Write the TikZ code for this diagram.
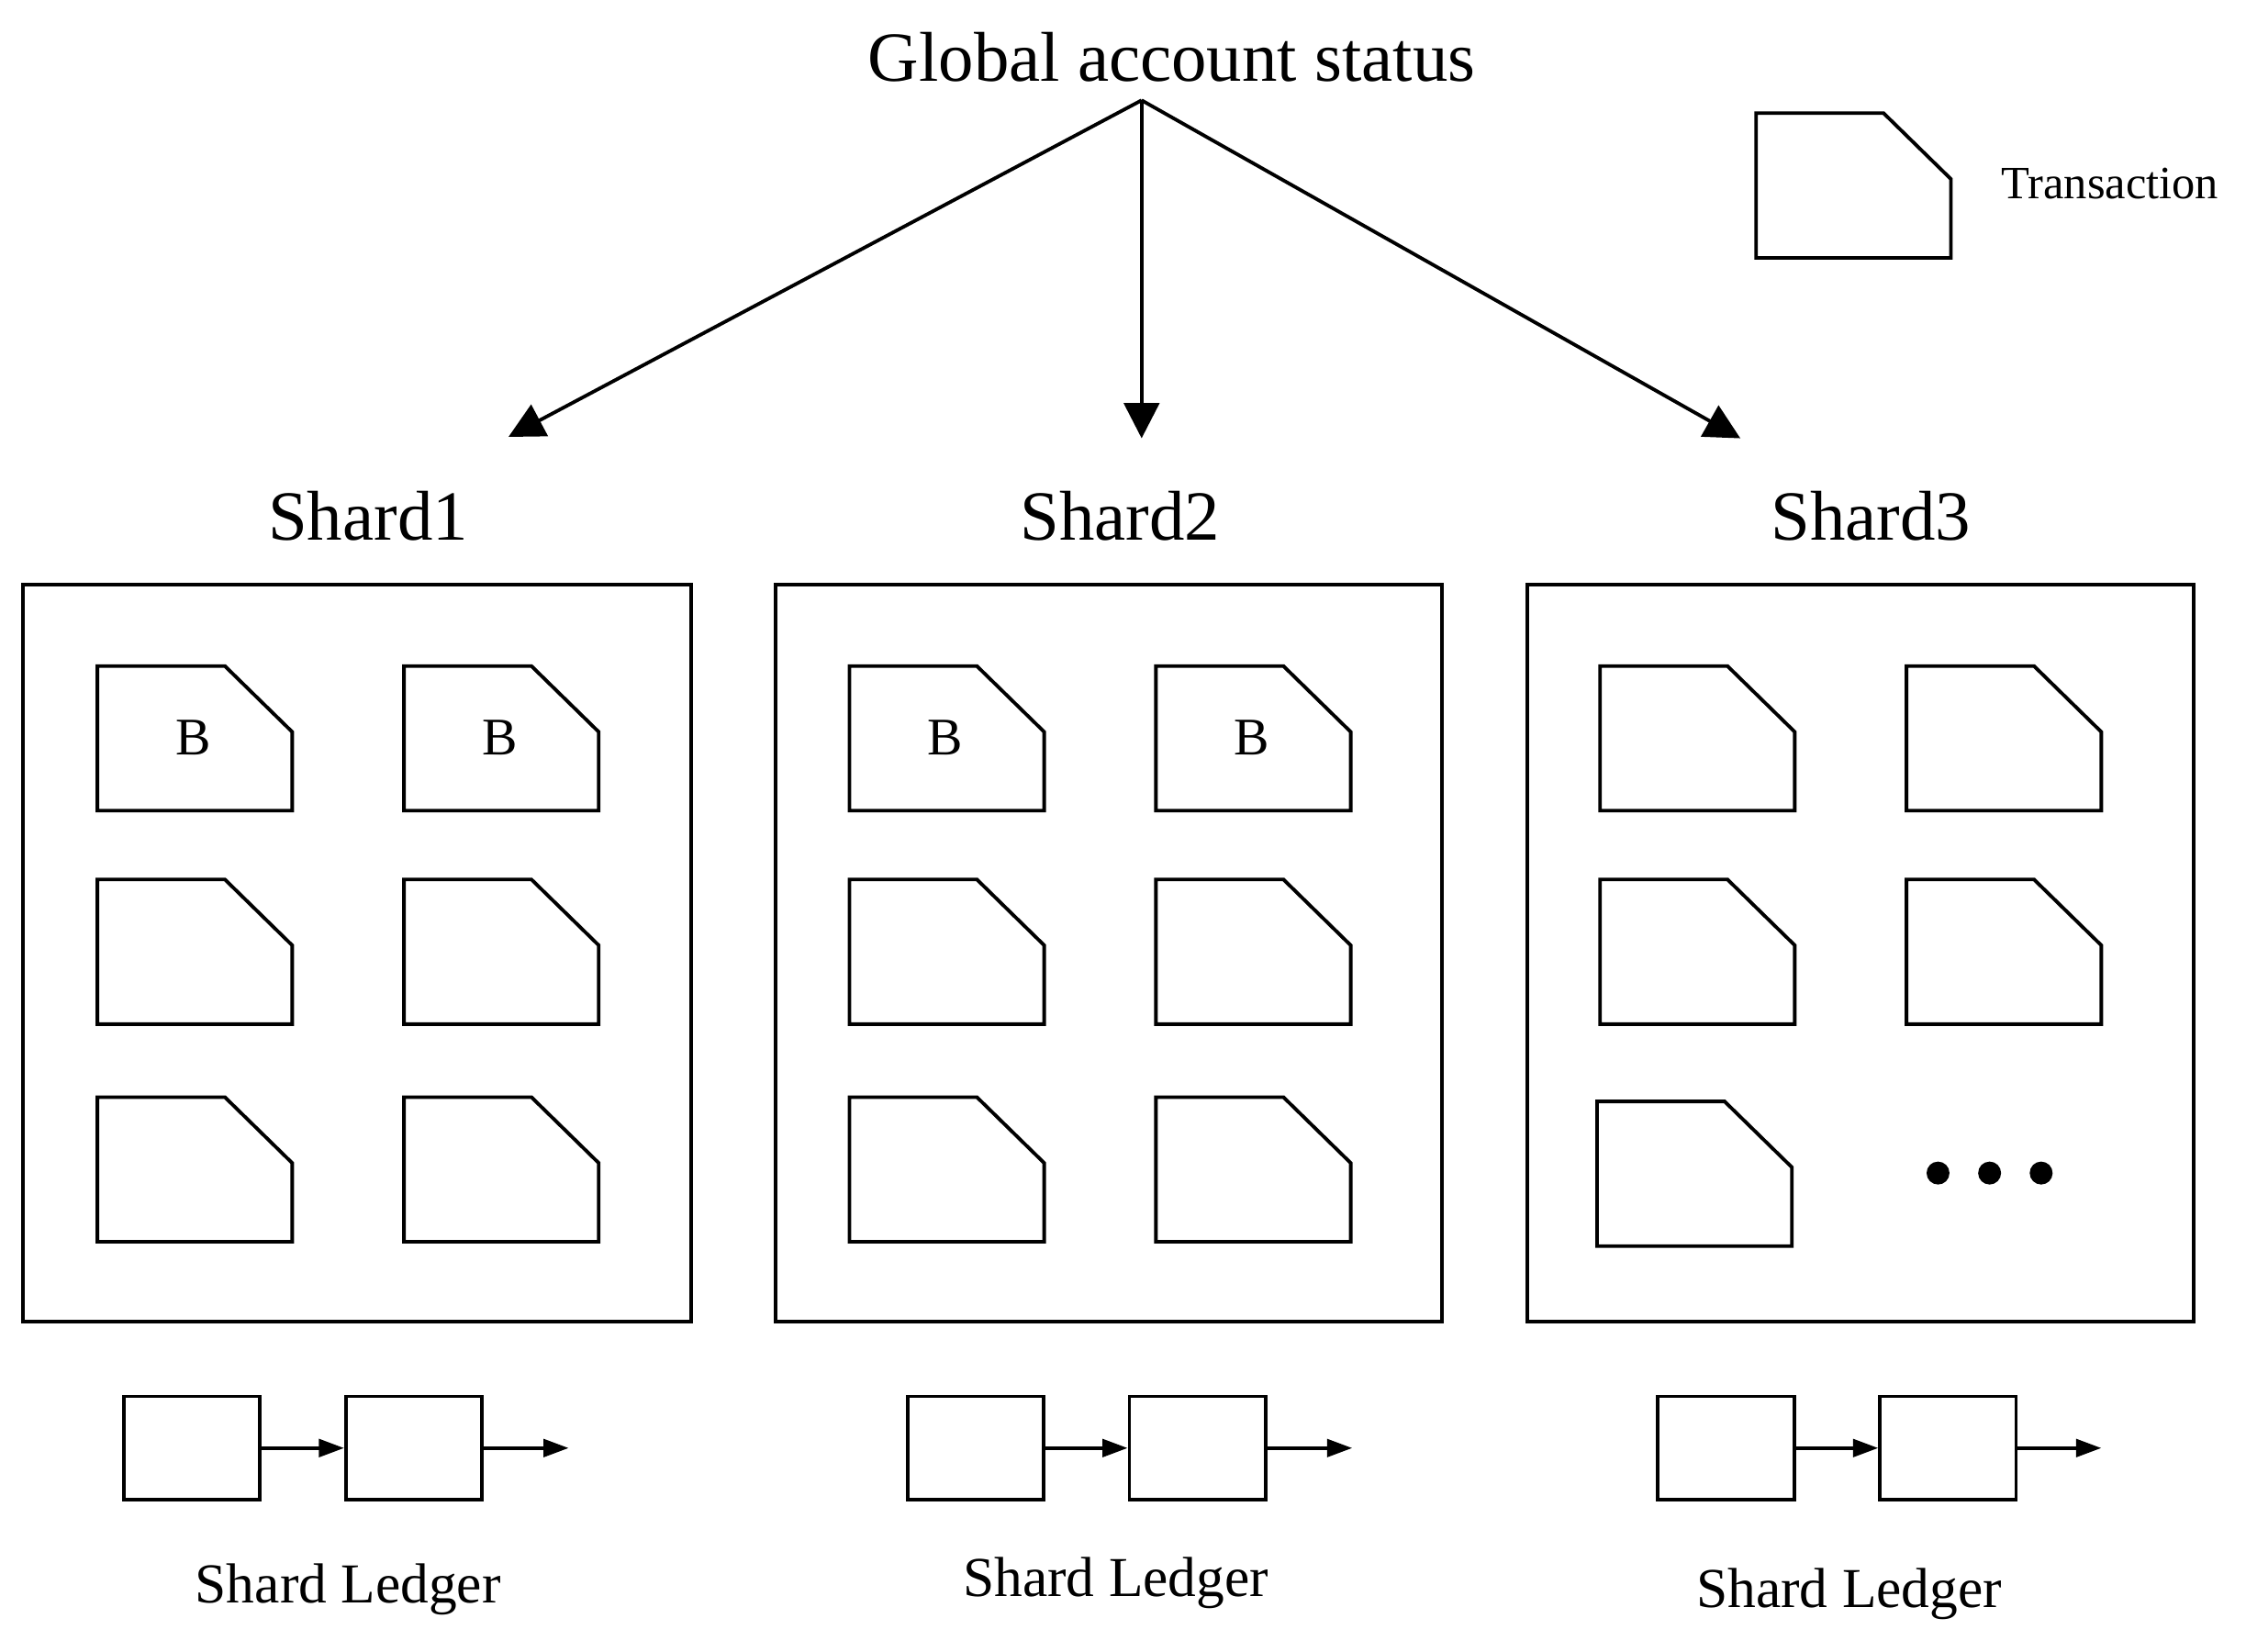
\documentclass[tikz,border=0pt]{standalone}
\usepackage{fontspec}
\setmainfont{Liberation Serif}
\usetikzlibrary{arrows.meta}
\begin{document}
\begin{tikzpicture}[x=0.01cm,y=-0.01cm,line width=0.7pt,
  tx/.pic={\draw (0,0) -- (89,0) -- (136,46) -- (136,101) -- (0,101) -- cycle;},
  blk/.style={draw,minimum width=0.95cm,minimum height=0.72cm,inner sep=0},
  arr/.style={-{Triangle[length=7pt,width=7pt]}},
  sarr/.style={-{Triangle[length=5pt,width=3.5pt]}},
  big/.style={font=\fontsize{14}{16}\selectfont},
  lab/.style={font=\fontsize{10.5}{12}\selectfont},
  led/.style={font=\fontsize{11.2}{13}\selectfont}]
\useasboundingbox (0,0) rectangle (1568,1153);
\node[big] (g) at (818,40) {Global account status};
\coordinate (o) at (797,70);
\coordinate (e1) at (355,305);
\coordinate (e2) at (797,306);
\coordinate (e3) at (1215,306);
\draw[arr] (o) -- (e1);
\draw[arr] (o) -- (e2);
\draw[arr] (o) -- (e3);
\node[big] (s1) at (257,360) {Shard1};
\node[big] (s2) at (782,360) {Shard2};
\node[big] (s3) at (1306,360) {Shard3};
\node[draw,minimum width=4.66cm,minimum height=5.14cm,anchor=north west,inner sep=0] (b1) at (15,407) {};
\node[draw,minimum width=4.65cm,minimum height=5.14cm,anchor=north west,inner sep=0] (b2) at (540,407) {};
\node[draw,minimum width=4.65cm,minimum height=5.14cm,anchor=north west,inner sep=0] (b3) at (1065,407) {};
\foreach \x in {68,282,593,807}{
  \foreach \y in {465,614,766}{ \pic at (\x,\y) {tx}; }}
\foreach \x in {1117,1331}{
  \foreach \y in {465,614}{ \pic at (\x,\y) {tx}; }}
\pic at (1115,769) {tx};
\foreach \x in {135,349,660,874}{ \node[lab] (B\x) at (\x,515) {B}; }
\foreach \x in {1353,1389,1425}{ \fill (\x,819) circle (8); }
\pic at (1226,79) {tx};
\node[font=\fontsize{9.2}{11}\selectfont] (tl) at (1473,128) {Transaction};
% ledgers
\foreach \i/\a/\b/\e/\lx/\ly in {1/134/289/397/243/1110, 2/681/836/944/779/1105, 3/1205/1360/1467/1291/1113}{
  \node[blk] (l\i a) at (\a,1011) {};
  \node[blk] (l\i b) at (\b,1011) {};
  \coordinate (l\i e) at (\e,1011);
  \draw[sarr] (l\i a) -- (l\i b);
  \draw[sarr] (l\i b) -- (l\i e);
  \node[led] (lt\i) at (\lx,\ly) {Shard Ledger};
}
\end{tikzpicture}
\end{document}
